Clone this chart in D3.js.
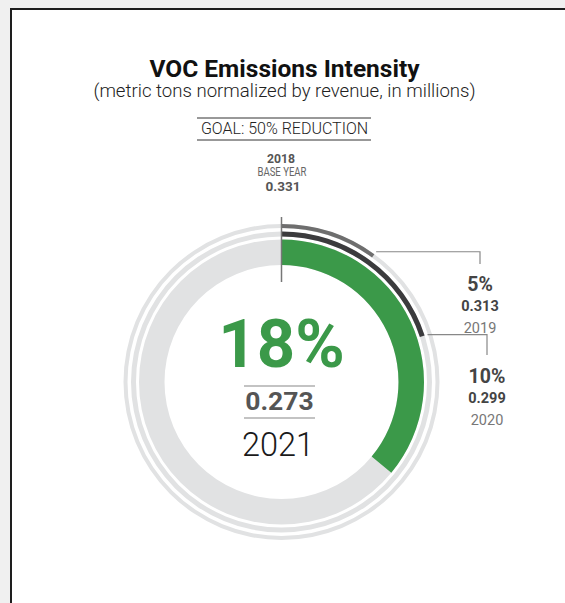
<!DOCTYPE html>
<html>
<head>
<meta charset="utf-8">
<script src="https://cdn.jsdelivr.net/npm/d3@7"></script>
<style>
	body{margin:0;background:#f0f0f0;}
	svg{display:block;font-family:Roboto,"Noto Sans",sans-serif;}
</style>
</head>
<body>
<script>
//chart values
var years=["2018","2019","2020","2021"];
var intensity=[0.331,0.313,0.299,0.273];
var reduction=[0,5,10,18]; //percent reduction vs base year
var goal=50; //percent reduction goal

(function(){
	var width=565,height=603;
	var cx=281.5,cy=382;

	var svg=d3.select("body")
		.append("svg")
		.attr("width",width)
		.attr("height",height);

	//white card with dark border
	svg.append("rect")
		.attr("x",11).attr("y",9)
		.attr("width",700).attr("height",700)
		.attr("fill","#fff")
		.attr("stroke","#1e1e1e")
		.attr("stroke-width",2);

	//titles
	svg.append("text")
		.attr("x",cx+3).attr("y",77)
		.attr("text-anchor","middle")
		.attr("font-size",24.5).attr("font-weight",700)
		.attr("fill","#111")
		.text("VOC Emissions Intensity");
	svg.append("text")
		.attr("x",cx+3).attr("y",97)
		.attr("text-anchor","middle")
		.attr("font-size",18.6).attr("font-weight",300)
		.attr("fill","#222")
		.text("(metric tons normalized by revenue, in millions)");

	//goal box
	svg.append("line").attr("x1",197).attr("x2",371).attr("y1",118).attr("y2",118).attr("stroke","#333");
	svg.append("line").attr("x1",197).attr("x2",371).attr("y1",140).attr("y2",140).attr("stroke","#333");
	svg.append("text")
		.attr("x",284.5).attr("y",134)
		.attr("text-anchor","middle")
		.attr("font-size",16).attr("font-weight",300)
		.attr("fill","#222")
		.text("GOAL: "+goal+"% REDUCTION");

	//base year label
	svg.append("text")
		.attr("x",281).attr("y",162.5)
		.attr("text-anchor","middle")
		.attr("font-size",13.5).attr("font-weight",700)
		.attr("fill","#555")
		.attr("textLength",28).attr("lengthAdjust","spacingAndGlyphs")
		.text(years[0]);
	svg.append("text")
		.attr("x",282).attr("y",175.5)
		.attr("text-anchor","middle")
		.attr("font-size",13.5).attr("font-weight",400)
		.attr("fill","#666")
		.attr("textLength",49).attr("lengthAdjust","spacingAndGlyphs")
		.text("BASE YEAR");
	svg.append("text")
		.attr("x",283).attr("y",191)
		.attr("text-anchor","middle")
		.attr("font-size",13.5).attr("font-weight",700)
		.attr("fill","#555")
		.text(intensity[0].toFixed(3));

	//angle scale: reduction percent -> fraction of goal around the ring
	var angle=d3.scaleLinear()
		.domain([0,goal])
		.range([0,2*Math.PI]);

	var g=svg.append("g")
		.attr("transform","translate("+cx+","+cy+")");

	//rings: outer (2019), middle (2020), main (2021)
	var rings=[
		{inner:154,outer:158,color:"#6e6e6e",value:reduction[1]},
		{inner:145.5,outer:150.5,color:"#3b3b3d",value:reduction[2]},
		{inner:117,outer:142.5,color:"#3b9949",value:reduction[3]}
	];

	rings.forEach(function(r){
		var arc=d3.arc().innerRadius(r.inner).outerRadius(r.outer);
		g.append("path")
			.attr("d",arc({startAngle:0,endAngle:2*Math.PI}))
			.attr("fill","#e1e2e3");
		g.append("path")
			.attr("d",arc({startAngle:0,endAngle:angle(r.value)}))
			.attr("fill",r.color);
	});

	//base year marker line
	svg.append("line")
		.attr("x1",cx).attr("x2",cx)
		.attr("y1",217).attr("y2",282)
		.attr("stroke","#777").attr("stroke-width",1.5);

	//leader lines and labels for 2019 and 2020
	var labels=[
		{i:1,r:158,hx2:480,vy2:264,lx:480,ly:290.5},
		{i:2,r:150.5,hx2:487,vy2:355,lx:487,ly:382.5}
	];
	labels.forEach(function(d){
		var a=angle(reduction[d.i]);
		var x0=cx+Math.sin(a)*(d.r+3),
			y0=cy-Math.cos(a)*(d.r+3);
		svg.append("path")
			.attr("d","M"+x0+","+y0+"H"+d.hx2+"V"+d.vy2)
			.attr("fill","none")
			.attr("stroke","#888")
			.attr("stroke-width",1.2);
		svg.append("text")
			.attr("x",d.lx).attr("y",d.ly)
			.attr("text-anchor","middle")
			.attr("font-size",19.5).attr("font-weight",700)
			.attr("fill","#444")
			.text(reduction[d.i]+"%");
		svg.append("text")
			.attr("x",d.lx).attr("y",d.ly+20)
			.attr("text-anchor","middle")
			.attr("font-size",14.5).attr("font-weight",700)
			.attr("fill","#444")
			.text(intensity[d.i].toFixed(3));
		svg.append("text")
			.attr("x",d.lx).attr("y",d.ly+42)
			.attr("text-anchor","middle")
			.attr("font-size",14.5).attr("font-weight",400)
			.attr("fill","#777")
			.text(years[d.i]);
	});

	//center labels for current year
	svg.append("text")
		.attr("x",cx).attr("y",367)
		.attr("text-anchor","middle")
		.attr("font-size",67).attr("font-weight",700)
		.attr("fill","#3b9949")
		.text(reduction[3]+"%");
	svg.append("line").attr("x1",244).attr("x2",315).attr("y1",386).attr("y2",386).attr("stroke","#888").attr("stroke-width",1.2);
	svg.append("line").attr("x1",244).attr("x2",315).attr("y1",418).attr("y2",418).attr("stroke","#888").attr("stroke-width",1.2);
	svg.append("text")
		.attr("x",279.5).attr("y",410)
		.attr("text-anchor","middle")
		.attr("font-size",26.5).attr("font-weight",700)
		.attr("fill","#555")
		.text(intensity[3].toFixed(3));
	svg.append("text")
		.attr("x",278).attr("y",456)
		.attr("text-anchor","middle")
		.attr("font-size",32.5).attr("font-weight",300)
		.attr("fill","#1a1a1a")
		.text(years[3]);
})();
</script>
</body>
</html>
